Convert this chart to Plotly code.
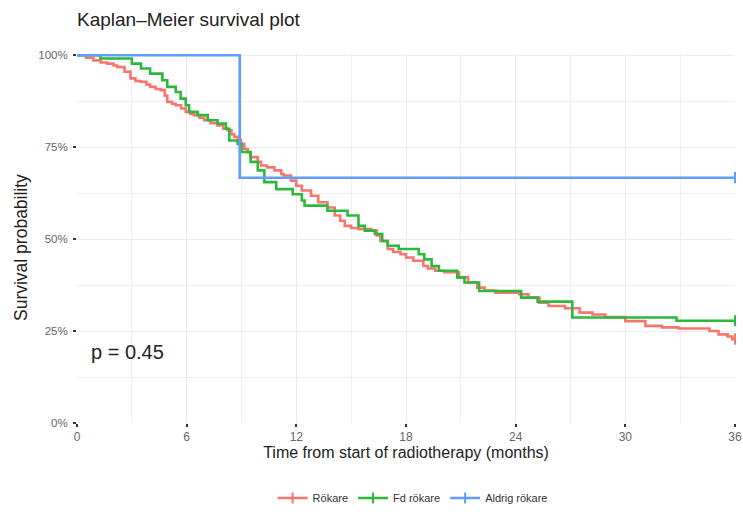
import plotly.graph_objects as go

# ---- data ----
red_t = [0, 0.5, 0.9, 1.3, 1.65, 2.0, 2.2, 2.6, 2.93, 3.2, 3.48, 3.8, 4.0, 4.3, 4.58, 4.8, 4.94,
         5.2, 5.4, 5.7, 5.95, 6.2, 6.4, 6.7, 6.96, 7.3, 7.69, 8.0, 8.24, 8.45, 8.6, 8.8, 8.97,
         9.15, 9.34, 9.5, 9.89, 10.07, 10.4, 10.8, 11.17, 11.3, 11.7, 12.0, 12.3, 12.8, 13.2,
         13.7, 14.1, 14.4, 14.65, 15.0, 15.4, 16.1, 16.4, 16.6, 17.0, 17.3, 17.7, 18.0, 18.4,
         18.95, 19.2, 19.6, 20.1, 20.9, 21.4, 21.9, 22.3, 22.9, 24.2, 24.7, 25.3, 25.8, 26.7,
         27.5, 28.2, 28.9, 30.0, 31.1, 32.0, 32.9, 34.6, 35.1, 35.6, 35.85, 36.0]
red_s = [1.0, 0.993, 0.986, 0.98, 0.977, 0.972, 0.968, 0.955, 0.937, 0.93, 0.928, 0.92, 0.914,
         0.908, 0.905, 0.89, 0.873, 0.868, 0.864, 0.855, 0.846, 0.84, 0.837, 0.83, 0.823, 0.815,
         0.809, 0.80, 0.796, 0.785, 0.778, 0.769, 0.759, 0.745, 0.736, 0.723, 0.71, 0.70, 0.695,
         0.687, 0.677, 0.673, 0.659, 0.645, 0.632, 0.618, 0.60, 0.586, 0.564, 0.55, 0.536, 0.53,
         0.527, 0.523, 0.51, 0.495, 0.473, 0.465, 0.459, 0.45, 0.441, 0.427, 0.42, 0.414, 0.41,
         0.396, 0.382, 0.368, 0.36, 0.354, 0.35, 0.341, 0.327, 0.318, 0.312, 0.30, 0.295, 0.288,
         0.277, 0.264, 0.26, 0.257, 0.25, 0.241, 0.235, 0.228, 0.228]

green_t = [0, 1.28, 3.0, 3.5, 4.0, 4.67, 4.94, 5.4, 5.67, 5.95, 6.13, 6.6, 7.15, 7.69, 8.15,
           8.33, 8.79, 9.0, 9.5, 9.89, 10.25, 10.9, 11.8, 12.3, 12.45, 13.7, 14.8, 15.4, 15.75,
           16.3, 16.7, 17.0, 17.6, 18.7, 19.0, 19.4, 19.8, 20.8, 21.2, 22.0, 24.3, 25.2, 27.1,
           32.8, 36.0]
green_s = [1.0, 0.991, 0.977, 0.964, 0.95, 0.932, 0.914, 0.90, 0.882, 0.864, 0.846, 0.837,
           0.823, 0.814, 0.80, 0.768, 0.759, 0.737, 0.71, 0.687, 0.655, 0.636, 0.622, 0.605,
           0.591, 0.577, 0.564, 0.536, 0.523, 0.514, 0.495, 0.482, 0.473, 0.459, 0.445, 0.427,
           0.414, 0.396, 0.382, 0.359, 0.341, 0.33, 0.287, 0.278, 0.278]

blue_t = [0, 8.9, 36.0]
blue_s = [1.0, 0.667, 0.667]

names = ["Rökare", "Fd rökare", "Aldrig rökare"]
colors = ["#F8766D", "#2DB83B", "#619CFF"]
series = [(red_t, red_s), (green_t, green_s), (blue_t, blue_s)]

x_ticks = [0, 6, 12, 18, 24, 30, 36]
y_ticks = [0, 0.25, 0.5, 0.75, 1.0]
y_ticktext = ["0%", "25%", "50%", "75%", "100%"]

FONT = "Liberation Sans, Arial, sans-serif"
W, H = 743, 512
L, R, T, B = 77, 8, 53, 89

fig = go.Figure()
for (t, s), name, col in zip(series, names, colors):
    fig.add_trace(go.Scatter(x=t, y=s, mode="lines", line=dict(color=col, width=2.6, shape="hv"),
                             name=name, legendgroup=name, showlegend=False))
    # censor mark at end of follow-up
    fig.add_trace(go.Scatter(x=[t[-1]], y=[s[-1]], mode="markers", cliponaxis=False,
                             marker=dict(symbol="line-ns", size=8, line=dict(color=col, width=2)),
                             legendgroup=name, showlegend=False, hoverinfo="skip"))
for name, col in zip(names, colors):
    fig.add_trace(go.Scatter(x=[None], y=[None], mode="lines+markers", name=name, legendgroup=name,
                             line=dict(color=col, width=2.6),
                             marker=dict(symbol="line-ns", size=8, line=dict(color=col, width=2))))

fig.add_annotation(x=0.68, y=0.193, xref="x", yref="y", text="p = 0.45", showarrow=False,
                   xanchor="left", yanchor="middle", font=dict(size=20, color="#222", family=FONT))

# y axis title placed like the reference (slightly below panel centre)
plot_h = H - T - B
fig.add_annotation(x=(21 - L) / (W - L - R), y=(H - B - 248) / plot_h, xref="paper", yref="paper",
                   text="Survival probability", textangle=-90, showarrow=False,
                   xanchor="center", yanchor="middle", font=dict(size=17.5, color="#222", family=FONT))

fig.update_layout(
    width=W, height=H,
    margin=dict(l=L, r=R, t=T, b=B, autoexpand=False),
    paper_bgcolor="white", plot_bgcolor="white",
    font=dict(family=FONT, color="#333"),
    title=dict(text="Kaplan–Meier survival plot", x=77/W, xref="container", xanchor="left",
               y=1 - 19/H, yanchor="middle", font=dict(size=19, color="#222", family=FONT)),
    legend=dict(orientation="h", x=0.51, xanchor="center", y=(H - B - 498) / plot_h, yanchor="middle",
                font=dict(size=11, color="#333", family=FONT), itemwidth=30, tracegroupgap=0),
    showlegend=True,
)
fig.update_xaxes(range=[0, 36], tickvals=x_ticks, ticks="outside", ticklen=3, tickwidth=1.5,
                 tickcolor="#333", tickfont=dict(size=12, color="#666"),
                 showgrid=True, gridcolor="#EBEBEB", gridwidth=1.3, zeroline=False, showline=False,
                 minor=dict(dtick=3, showgrid=True, gridcolor="#F0F0F0", gridwidth=1, ticklen=0),
                 title=dict(text="Time from start of radiotherapy (months)", standoff=3,
                            font=dict(size=16, color="#222")),
                 automargin=False)
fig.update_yaxes(range=[0, 1.006], tickvals=y_ticks, ticktext=y_ticktext, ticks="outside",
                 ticklen=3, tickwidth=1.5, tickcolor="#333", tickfont=dict(size=11.5, color="#666"),
                 ticklabelstandoff=3,
                 showgrid=True, gridcolor="#EBEBEB", gridwidth=1.3, zeroline=False, showline=False,
                 minor=dict(tickvals=[0.125, 0.375, 0.625, 0.875], showgrid=True,
                            gridcolor="#F0F0F0", gridwidth=1, ticklen=0),
                 automargin=False)

fig.write_html("out.html")
